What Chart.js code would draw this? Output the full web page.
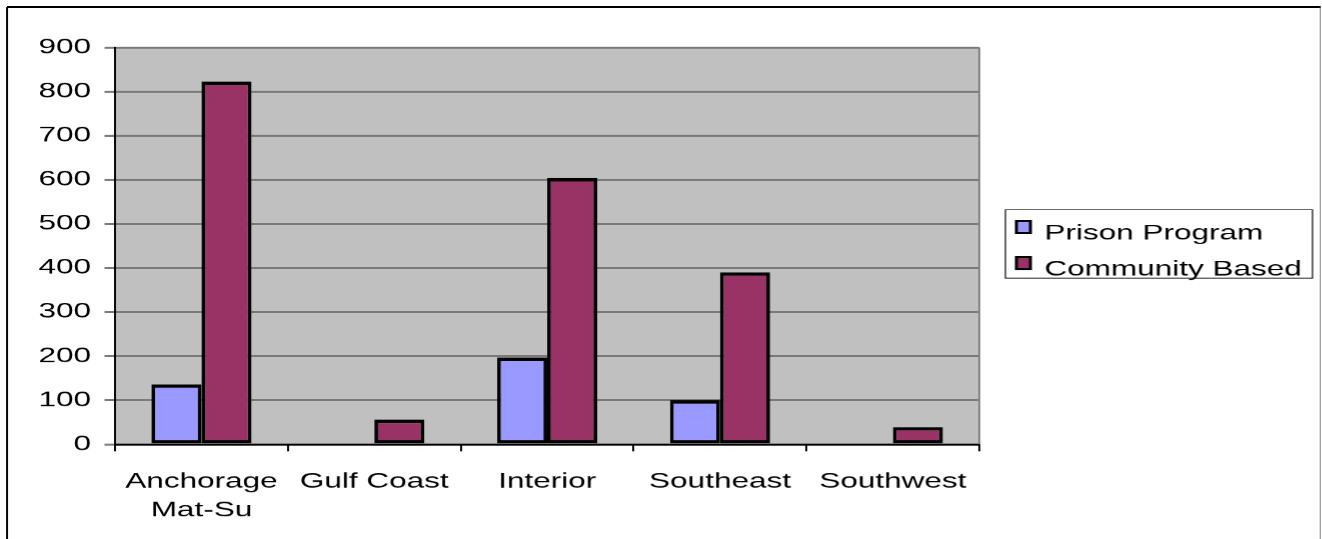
<!DOCTYPE html>
<html>
<head>
<meta charset="utf-8">
<script src="https://cdn.jsdelivr.net/npm/chart.js@4/dist/chart.umd.min.js"></script>
<style>
  html, body { margin: 0; padding: 0; background: #fff; overflow: hidden; }
  /* the original chart's text is stretched sideways, so draw narrow and widen */
  #wrap { width: 881.333px; height: 539px; transform: scaleX(1.5); transform-origin: 0 0; }
</style>
</head>
<body>
<div id="wrap"><canvas id="chart"></canvas></div>
<script>
// ========== DATOS ==========
const regiones = [["Anchorage", "Mat-Su"], "Gulf Coast", "Interior", "Southeast", "Southwest"];
const prisonProgram = [136, 0, 197, 100, 0];
const communityBased = [823, 56, 604, 390, 39];
const yTicks = [0, 100, 200, 300, 400, 500, 600, 700, 800, 900];

const FONT = "'Liberation Sans', Arial, sans-serif";
const SX = 1.5; // horizontal stretch

// ========== FONDO, MARCOS Y LEYENDA ==========
const marco = {
    id: "marco",
    beforeDraw(chart) {
        const { ctx, chartArea: a } = chart;
        ctx.save();
        ctx.fillStyle = "#ffffff";
        ctx.fillRect(0, 0, chart.width, chart.height);
        ctx.fillStyle = "#c0c0c0";
        ctx.fillRect(a.left, a.top, a.right - a.left, a.bottom - a.top);
        ctx.restore();
    },
    afterDraw(chart) {
        const { ctx, chartArea: a } = chart;
        ctx.save();
        // right edge of the plot
        ctx.strokeStyle = "#808080";
        ctx.lineWidth = 1.3;
        ctx.beginPath();
        ctx.moveTo(a.right, a.top);
        ctx.lineTo(a.right, a.bottom);
        ctx.stroke();

        // outer frame
        ctx.strokeStyle = "#000";
        ctx.lineWidth = 2;
        ctx.beginPath();
        ctx.moveTo(7 / SX, 7);
        ctx.lineTo(1320.5 / SX, 7);
        ctx.stroke();
        ctx.lineWidth = 1.3;
        ctx.beginPath();
        ctx.moveTo(7 / SX, 7);
        ctx.lineTo(7 / SX, chart.height);
        ctx.stroke();
        ctx.strokeStyle = "#808080";
        ctx.beginPath();
        ctx.moveTo(1320.5 / SX, 7);
        ctx.lineTo(1320.5 / SX, chart.height);
        ctx.stroke();

        // legend
        const lx = 1005 / SX, ly = 209.5, lw = (1312 - 1005) / SX, lh = 68.5;
        ctx.strokeStyle = "#222";
        ctx.lineWidth = 0.9;
        ctx.strokeRect(lx, ly, lw, lh);
        ctx.font = `21px ${FONT}`;
        ctx.textBaseline = "alphabetic";
        ctx.textAlign = "left";
        chart.data.datasets.forEach((ds, i) => {
            const y = 221 + i * 36;
            ctx.fillStyle = ds.backgroundColor;
            ctx.fillRect(1016 / SX, y, 14 / SX, 12);
            ctx.strokeStyle = "#000";
            ctx.lineWidth = 2;
            ctx.strokeRect(1016 / SX, y, 14 / SX, 12);
            ctx.fillStyle = "#000";
            ctx.fillText(ds.label, 1044 / SX, 239 + i * 36);
        });
        ctx.restore();
    },
};

// ========== GRÁFICO ==========
const ctx = document.getElementById("chart").getContext("2d");
new Chart(ctx, {
    type: "bar",
    data: {
        labels: regiones,
        datasets: [{
            label: "Prison Program",
            data: prisonProgram,
            backgroundColor: "#9999ff",
        }, {
            label: "Community Based",
            data: communityBased,
            backgroundColor: "#993366",
        }],
    },
    options: {
        responsive: true,
        maintainAspectRatio: false,
        devicePixelRatio: 1.5,
        animation: false,
        layout: { padding: { left: 0, top: 47.5, right: 881.333 - 979 / SX, bottom: 0 } },
        datasets: {
            bar: {
                categoryPercentage: 0.579,
                barPercentage: 1,
                borderColor: "#000",
                borderWidth: { top: 3.5, bottom: 3, left: 2.5, right: 2.5 },
                borderSkipped: false,
            },
        },
        plugins: {
            legend: { display: false },
            tooltip: { enabled: false },
        },
        scales: {
            x: {
                afterFit: (s) => { s.height = 95; },
                grid: {
                    offset: true,
                    drawOnChartArea: false,
                    color: "#000",
                    lineWidth: 1.3,
                    tickLength: 7,
                },
                border: { color: "#000", width: 2 },
                ticks: {
                    color: "#000",
                    padding: 16,
                    maxRotation: 0,
                    autoSkip: false,
                    font: { family: FONT, size: 21, lineHeight: "29px" },
                },
            },
            y: {
                min: 0,
                max: 900,
                afterFit: (s) => { s.width = 115 / SX; },
                afterBuildTicks: (s) => { s.ticks = yTicks.map((v) => ({ value: v })); },
                grid: { color: "#7a7a7a", lineWidth: 2, tickLength: 7 },
                border: { color: "#000", width: 1.3 },
                ticks: {
                    color: "#000",
                    padding: 9,
                    font: { family: FONT, size: 21 },
                },
            },
        },
    },
    plugins: [marco],
});
</script>
</body>
</html>
